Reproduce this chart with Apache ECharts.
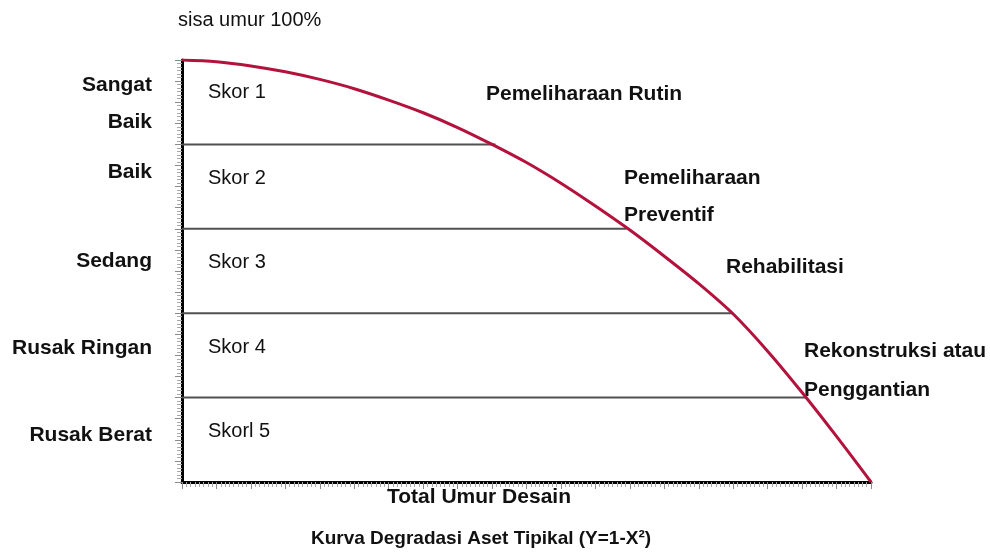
<!DOCTYPE html>
<html>
<head>
	<meta charset="UTF-8">
	<title>Kurva Degradasi Aset Tipikal</title>
	<script src="https://cdn.jsdelivr.net/npm/echarts@6/dist/echarts.min.js"></script>
	<style>
		html, body { margin: 0; padding: 0; background: #fff; }
		#chart { width: 990px; height: 554px; }
	</style>
</head>
<body>
	<div id="chart"></div>
	<script>
		// kurva degradasi (titik)
		var curveX = [0, 0.05, 0.1, 0.15, 0.2, 0.25, 0.3, 0.35, 0.4, 0.45, 0.5, 0.55, 0.6, 0.65, 0.7, 0.75, 0.8, 0.85, 0.9, 0.95, 1];
		var curveY = [1, 0.996, 0.986, 0.972, 0.954, 0.932, 0.905, 0.875, 0.84, 0.8, 0.757, 0.708, 0.654, 0.597, 0.535, 0.47, 0.398, 0.31, 0.212, 0.108, 0];
		// garis batas skor
		var levelY = [0.8, 0.6, 0.4, 0.2];
		var levelEndX = [0.455, 0.645, 0.8, 0.906];
		// teks
		var kondisi = ["Sangat", "Baik", "Baik", "Sedang", "Rusak Ringan", "Rusak Berat"];
		var skor = ["Skor 1", "Skor 2", "Skor 3", "Skor 4", "Skorl 5"];
		var tindakan = ["Pemeliharaan Rutin", "Pemeliharaan", "Preventif", "Rehabilitasi", "Rekonstruksi atau", "Penggantian"];
		var topLabel = "sisa umur 100%";
		var xName = "Total Umur Desain";
		var judul = "Kurva Degradasi Aset Tipikal (Y=1-X²)";

		var myChart = echarts.init(document.getElementById('chart'));
		var F = "Liberation Sans, Arial, sans-serif";

		var curveData = curveX.map(function(x, i) { return [x, curveY[i]]; });

		var series = levelY.map(function(y, i) {
			return {
				type: 'line',
				data: [[0, y], [levelEndX[i], y]],
				symbol: 'none',
				silent: true,
				lineStyle: { color: '#505050', width: 2 }
			};
		});
		series.push({
			type: 'line',
			data: curveData,
			smooth: 0.3,
			symbol: 'none',
			lineStyle: { color: '#b3123c', width: 3 },
			z: 5
		});

		function txt(s, x, y, bold, align) {
			return {
				type: 'text',
				x: x,
				y: y,
				style: {
					text: s,
					font: (bold ? 'bold 21px ' : '20px ') + F,
					fill: '#111',
					align: align || 'left',
					verticalAlign: 'middle',
					textAlign: align || 'left',
					textVerticalAlign: 'middle'
				}
			};
		}

		var kondisiY = [85, 122, 172, 261, 348, 435];
		var skorY = [92, 178, 262, 347, 431];
		var tindakanPos = [[486, 94], [624, 178], [624, 215], [726, 267], [804, 351], [804, 390]];

		var graphics = [];
		kondisi.forEach(function(s, i) { graphics.push(txt(s, 152, kondisiY[i], true, 'right')); });
		skor.forEach(function(s, i) { graphics.push(txt(s, 208, skorY[i], false)); });
		tindakan.forEach(function(s, i) { graphics.push(txt(s, tindakanPos[i][0], tindakanPos[i][1], true)); });
		graphics.push(txt(topLabel, 178, 20, false));
		graphics.push(txt(xName, 479, 497, true, 'center'));
		var t = txt(judul, 481, 539, true, 'center');
		t.style.font = 'bold 19px ' + F;
		graphics.push(t);

		function axis(minorSplit) {
			return {
				type: 'value',
				min: 0,
				max: 1,
				interval: 0.05,
				axisLine: { show: true, lineStyle: { color: '#000', width: 3 } },
				axisTick: { show: true, inside: false, length: 7, lineStyle: { color: '#8a8a8a', width: 1 } },
				minorTick: { show: true, splitNumber: minorSplit, length: 5, lineStyle: { color: '#a8a8a8', width: 1 } },
				axisLabel: { show: false },
				splitLine: { show: false }
			};
		}

		var option = {
			animation: false,
			backgroundColor: '#fff',
			grid: { left: 182, right: 119, top: 60, bottom: 72 },
			xAxis: axis(8),
			yAxis: axis(6),
			series: series,
			graphic: graphics
		};
		myChart.setOption(option);
	</script>
</body>
</html>
